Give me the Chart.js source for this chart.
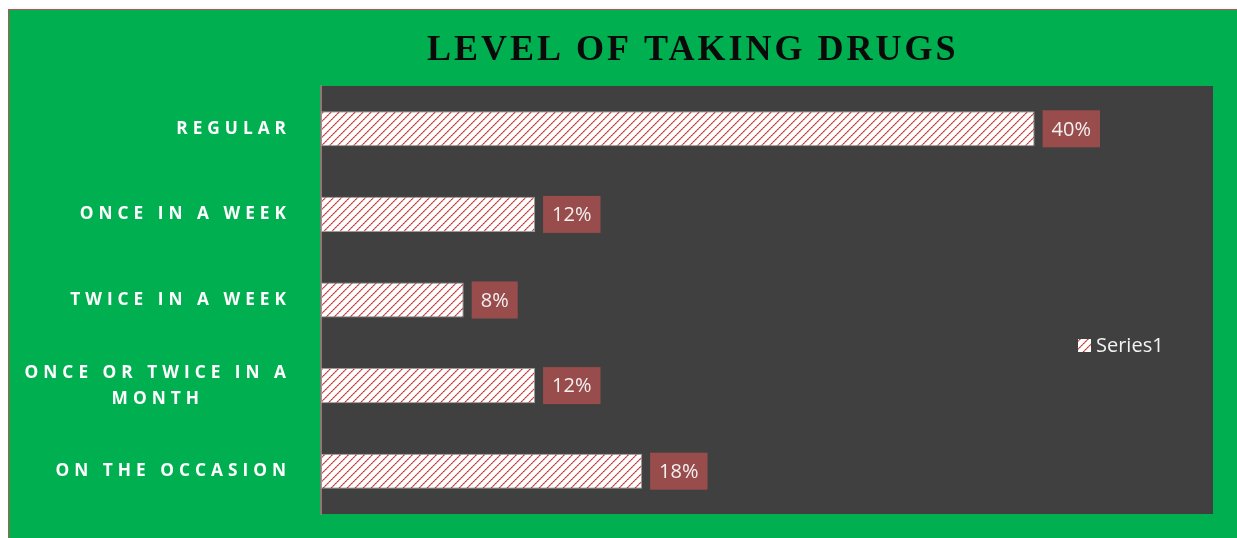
<!DOCTYPE html>
<html>
<head>
<meta charset="utf-8">
<script src="https://cdn.jsdelivr.net/npm/chart.js@4.4.1/dist/chart.umd.min.js"></script>
<style>
  html, body { margin: 0; padding: 0; background: #ffffff; }
  #frame {
    position: absolute; left: 8px; top: 9px; right: 0; bottom: 0;
    background: #00B050;
    border-left: 1px solid #C0504D;
    border-top: 1px solid #C0504D;
  }
  #wrap { position: absolute; left: 0; top: 0; width: 1228px; height: 528px; }
</style>
</head>
<body>
<div id="frame"><div id="wrap"><canvas id="chart"></canvas></div></div>
<script>
// Chart content
const chartTitle = 'LEVEL OF TAKING DRUGS';
const seriesName = 'Series1';
const categories = [
  'REGULAR',
  'ONCE IN A WEEK',
  'TWICE IN A WEEK',
  ['ONCE OR TWICE IN A', 'MONTH'],
  'ON THE OCCASION'
];
const values = [40, 12, 8, 12, 18];
const axisMin = 0;
const axisMax = 50;

// Wide upward diagonal hatch: white ground with dotted red stripes
function makeHatch() {
  const c = document.createElement('canvas');
  c.width = 8; c.height = 8;
  const g = c.getContext('2d');
  g.fillStyle = '#ffffff';
  g.fillRect(0, 0, 8, 8);
  for (let i = 0; i < 8; i++) {
    const y = 7 - i;
    g.fillStyle = (i % 2 === 0) ? '#C23A38' : '#D46664';
    g.fillRect(i, y, 1, 1);
    g.fillStyle = (i % 2 === 0) ? '#E39391' : '#EDB4B3';
    g.fillRect((i + 1) % 8, y, 1, 1);
    g.fillStyle = '#F8E2E1';
    g.fillRect((i + 7) % 8, y, 1, 1);
  }
  return g.createPattern(c, 'repeat');
}
const hatch = makeHatch();

// Dark plot background
const plotBackground = {
  id: 'plotBackground',
  beforeDraw(chart) {
    const { ctx, chartArea: a } = chart;
    ctx.save();
    ctx.fillStyle = '#404040';
    ctx.fillRect(a.left, a.top, a.right - a.left, a.bottom - a.top);
    ctx.restore();
  }
};

// Heading with letter spacing
const heading = {
  id: 'heading',
  afterDraw(chart) {
    const { ctx } = chart;
    ctx.save();
    ctx.font = 'bold 36px "Liberation Serif", "Times New Roman", serif';
    ctx.letterSpacing = '3px';
    ctx.fillStyle = '#0a0a0a';
    ctx.textAlign = 'left';
    ctx.textBaseline = 'alphabetic';
    ctx.fillText(chartTitle, 418, 50);
    ctx.restore();
  }
};

// Spaced, bold category names left of the axis
const categoryNames = {
  id: 'categoryNames',
  afterDraw(chart) {
    const { ctx } = chart;
    const yScale = chart.scales.y;
    const rightEdge = 282;
    const lineGap = 26;
    ctx.save();
    ctx.font = 'bold 17.3px "Open Sans", sans-serif';
    ctx.letterSpacing = '5px';
    ctx.fillStyle = '#ffffff';
    ctx.textBaseline = 'middle';
    ctx.textAlign = 'left';
    categories.forEach((cat, i) => {
      const lines = Array.isArray(cat) ? cat : [cat];
      const widths = lines.map(l => ctx.measureText(l).width);
      const blockW = Math.max(...widths);
      const cy = yScale.getPixelForValue(i);
      const y0 = cy - (lines.length - 1) * lineGap / 2;
      lines.forEach((l, k) => {
        const x = rightEdge - blockW + (blockW - widths[k]) / 2;
        ctx.fillText(l, x, y0 + k * lineGap);
      });
    });
    ctx.restore();
  }
};

// Value boxes next to bar ends
const valueBoxes = {
  id: 'valueBoxes',
  afterDatasetsDraw(chart) {
    const { ctx } = chart;
    const meta = chart.getDatasetMeta(0);
    ctx.save();
    ctx.font = '20px "Open Sans", sans-serif';
    ctx.textBaseline = 'middle';
    ctx.textAlign = 'center';
    meta.data.forEach((bar, i) => {
      const txt = values[i] + '%';
      const w = ctx.measureText(txt).width + 18;
      const h = 37;
      const x = bar.x + 8;
      const y = bar.y - h / 2;
      ctx.fillStyle = '#994C4C';
      ctx.fillRect(x, y, w, h);
      ctx.fillStyle = '#F4F0F0';
      ctx.fillText(txt, x + w / 2, bar.y + 1);
    });
    ctx.restore();
  }
};

// Legend key inside the plot, right side
const legendKey = {
  id: 'legendKey',
  afterDraw(chart) {
    const { ctx, chartArea: a } = chart;
    const ds = chart.data.datasets[0];
    const x = a.right - 135;
    const cy = (a.top + a.bottom) / 2 + 45;
    ctx.save();
    ctx.fillStyle = ds.backgroundColor;
    ctx.fillRect(x, cy - 6, 13, 13);
    ctx.font = '20px "Open Sans", sans-serif';
    ctx.fillStyle = '#F2F2F2';
    ctx.textBaseline = 'middle';
    ctx.textAlign = 'left';
    ctx.fillText(ds.label, x + 18, cy + 1);
    ctx.restore();
  }
};

new Chart(document.getElementById('chart'), {
  type: 'bar',
  data: {
    labels: categories,
    datasets: [{
      label: seriesName,
      data: values,
      backgroundColor: hatch,
      borderColor: '#9a9a9a',
      borderWidth: 1,
      borderSkipped: false,
      categoryPercentage: 1,
      barPercentage: 0.41
    }]
  },
  options: {
    indexAxis: 'y',
    responsive: true,
    maintainAspectRatio: false,
    animation: false,
    layout: { padding: { left: 0, top: 76, right: 24, bottom: 24 } },
    plugins: {
      legend: { display: false },
      title: { display: false },
      tooltip: { enabled: false }
    },
    scales: {
      x: { display: false, min: axisMin, max: axisMax },
      y: {
        ticks: { display: false },
        grid: { display: false },
        border: { display: true, color: '#8a7a74', width: 2 },
        afterFit(scale) { scale.width = 312; }
      }
    }
  },
  plugins: [plotBackground, valueBoxes, categoryNames, heading, legendKey]
});
</script>
</body>
</html>
